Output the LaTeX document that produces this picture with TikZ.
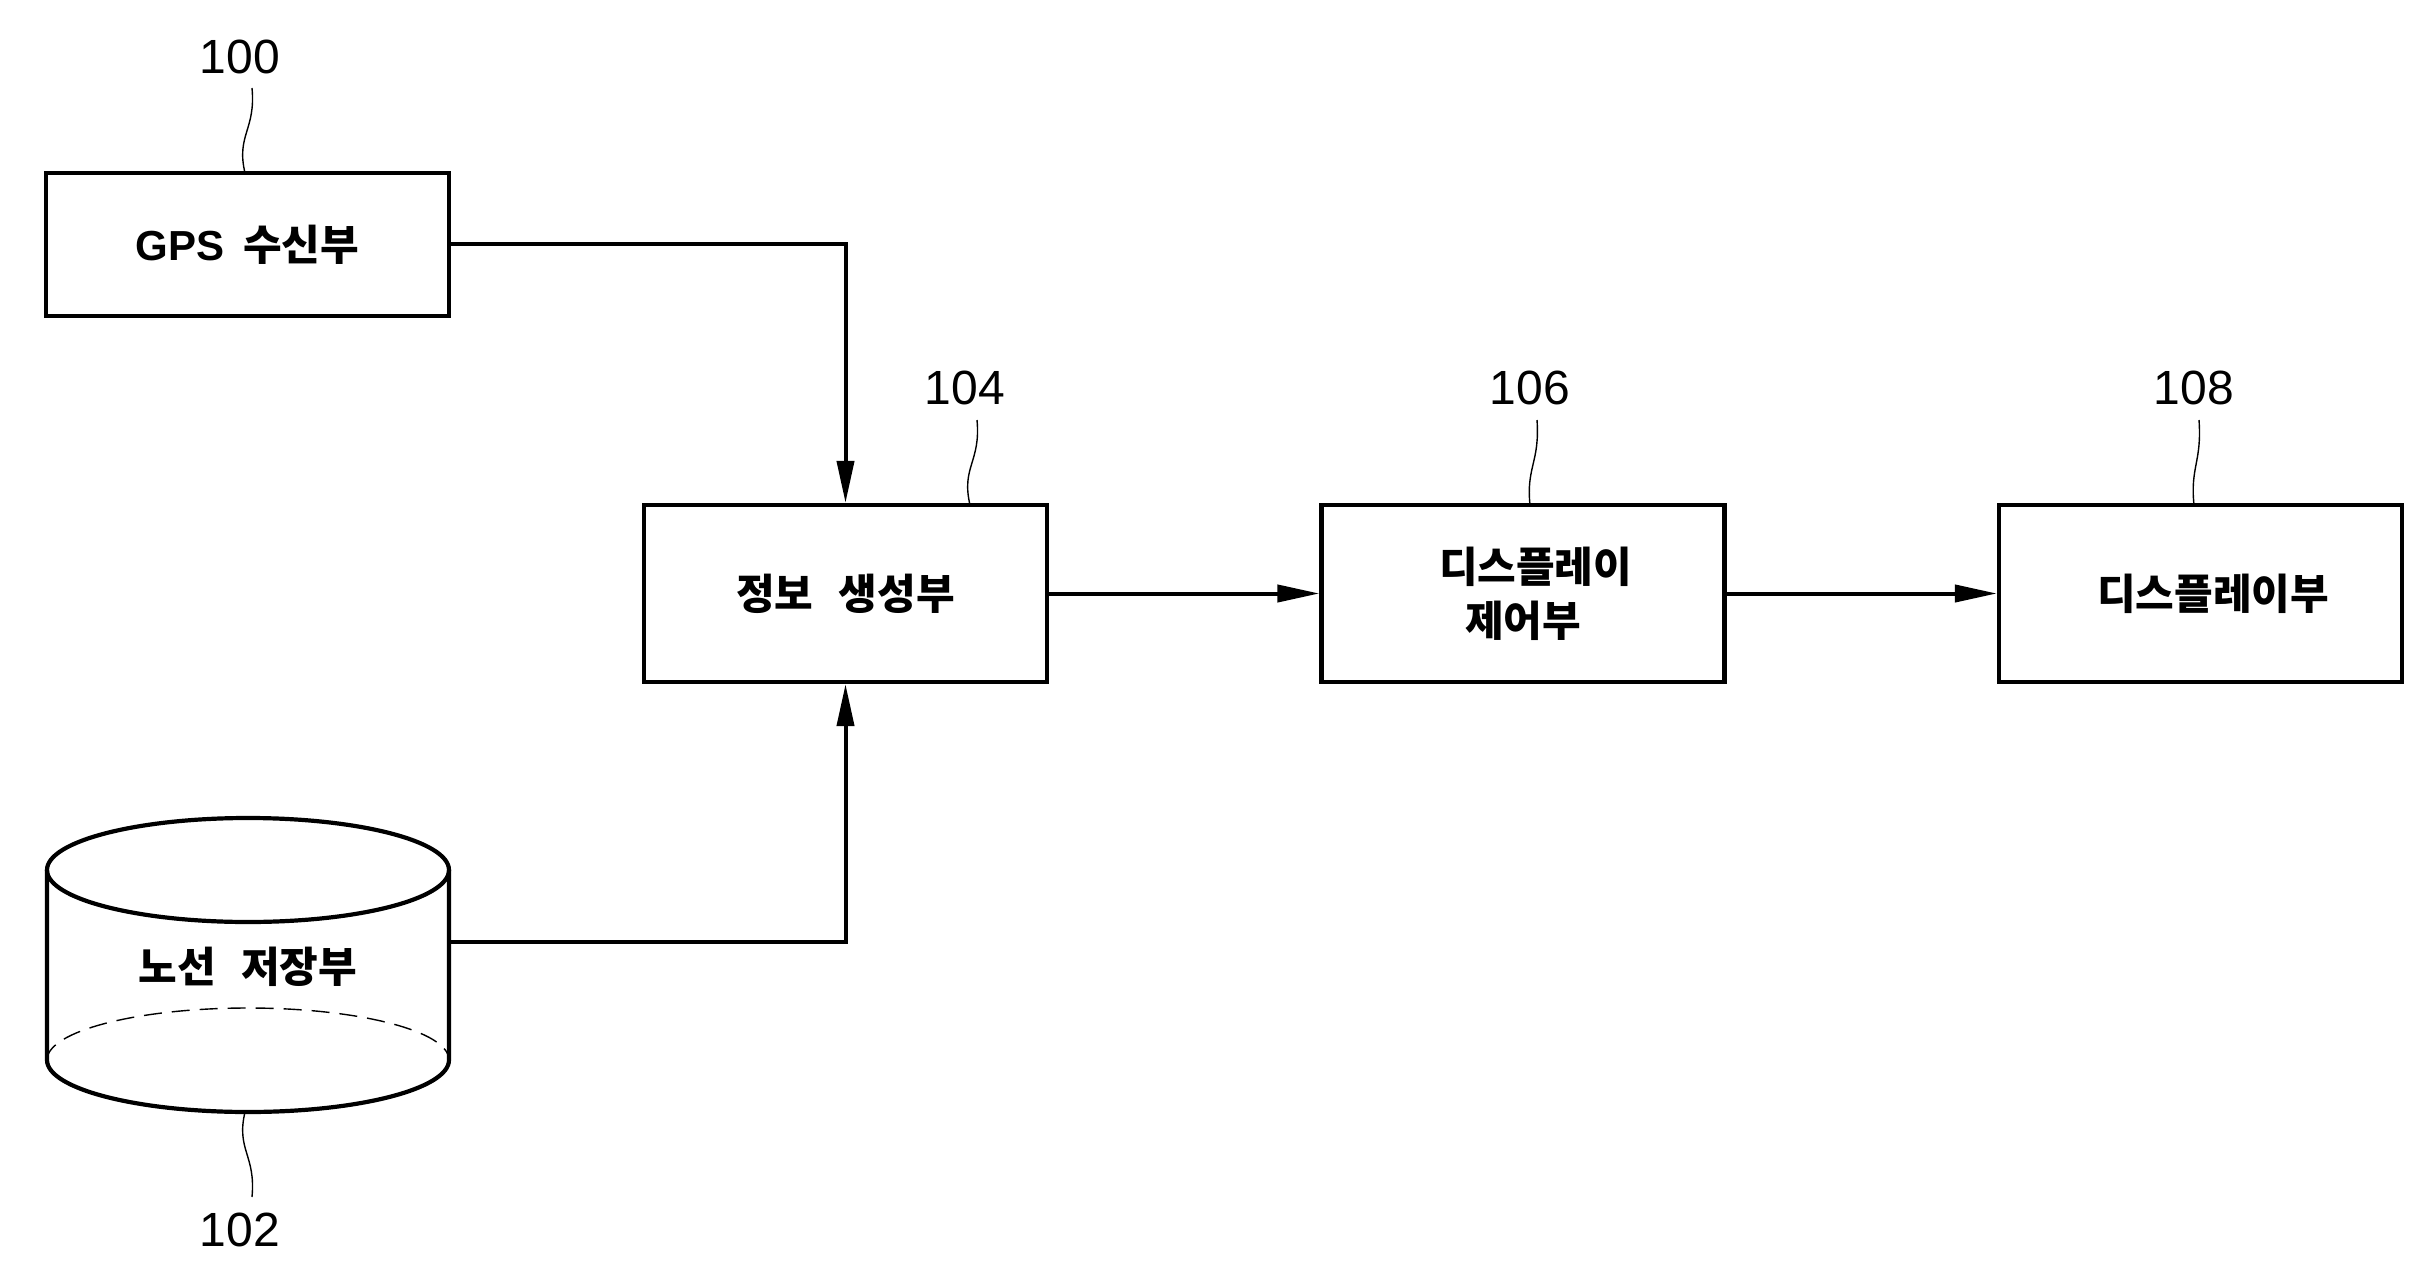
\documentclass[tikz,border=0pt]{standalone}
\usepackage{fontspec}
\setmainfont{Liberation Sans}
\newfontfamily\kr{Noto Sans CJK KR}
\usetikzlibrary{arrows.meta}
\begin{document}
\begin{tikzpicture}[x=0.5pt,y=-0.5pt,
  box/.style={draw, line width=2.1pt, minimum width=201.5pt, minimum height=88.5pt, inner sep=0pt, align=center, font=\kr\bfseries\fontsize{21}{27}\selectfont},
  krtext/.style={inner sep=0pt, font=\kr\bfseries\fontsize{21}{27}\selectfont},
  conn/.style={line width=2pt, -{Triangle[length=21pt,width=8.5pt]}},
  lead/.style={line width=0.7pt},
  num/.style={inner sep=0pt, font=\fontsize{24}{28}\selectfont}]
\useasboundingbox (0,0) rectangle (2435,1278);
% boxes
\node[box, minimum height=71.5pt] (gps) at (247.5,244.5) {\fontspec{Liberation Sans}GPS\hspace{0.45em}\kr 수신부};
\node[box] (info) at (845.5,593.5) {정보\hspace{0.6em}생성부};
\node[box] (ctrl) at (1523,593.5) {\hspace{0.6em}디스플레이\\제어부\hspace{0.6em}};
\node[box] (disp) at (2200.5,593.5) {\hspace{0.6em}디스플레이부};
% cylinder
\draw[line width=2.1pt] (248,870) ellipse [x radius=201, y radius=52];
\draw[line width=2.1pt] (47,870) -- (47,1060) arc[start angle=180, end angle=0, x radius=201, y radius=52] -- (449,870);
\draw[line width=0.7pt, dash pattern=on 9pt off 5pt] (47,1060) arc[start angle=180, end angle=360, x radius=201, y radius=52];
\node[krtext] (store) at (248,967) {노선\hspace{0.6em}저장부};
\coordinate (cylR) at (449,942);
\coordinate (cylB) at (245,1112);
% connectors
\draw[conn] (gps.east) -| (info.north);
\draw[conn] (cylR) -| (info.south);
\draw[conn] (info.east) -- (ctrl.west);
\draw[conn] (ctrl.east) -- (disp.west);
% labels
\node[num] (n100) at (240,57) {100};
\node[num] (n102) at (240,1230) {102};
\node[num] (n104) at (965,388) {104};
\node[num] (n106) at (1530,388) {106};
\node[num] (n108) at (2194,388) {108};
\coordinate (a100) at (252,88);
\coordinate (b100) at (245,173);
\coordinate (a102) at (252,1197);
\coordinate (a104) at (977,420);
\coordinate (b104) at (970,505);
\coordinate (a106) at (1537,420);
\coordinate (b106) at (1530,505);
\coordinate (a108) at (2199,420);
\coordinate (b108) at (2194,505);
\draw[lead] (a100) .. controls (256,130) and (236,135) .. (b100);
\draw[lead] (cylB) .. controls (236,1150) and (256,1155) .. (a102);
\draw[lead] (a104) .. controls (981,462) and (961,467) .. (b104);
\draw[lead] (a106) .. controls (1540,462) and (1526,467) .. (b106);
\draw[lead] (a108) .. controls (2202,462) and (2190,467) .. (b108);
\end{tikzpicture}
\end{document}
